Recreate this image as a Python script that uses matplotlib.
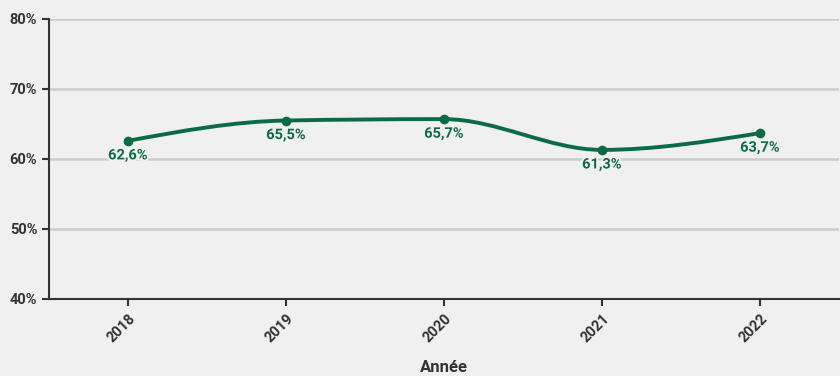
import matplotlib.pyplot as plt
import matplotlib.patheffects as pe
import numpy as np
from matplotlib.path import Path
from matplotlib.patches import PathPatch

years = ["2018", "2019", "2020", "2021", "2022"]
taux = [62.6, 65.5, 65.7, 61.3, 63.7]
labels = ["62,6%", "65,5%", "65,7%", "61,3%", "63,7%"]

green = "#0b6b45"
bg = "#f0f0f0"
dark = "#333333"

plt.rcParams["font.family"] = ["Roboto", "DejaVu Sans"]


def monotone_path(x, y):
    # monotone cubic bezier path through the points
    x = np.asarray(x, float)
    y = np.asarray(y, float)
    n = len(x)
    h = np.diff(x)
    s = np.diff(y) / h
    t = np.zeros(n)
    for i in range(1, n - 1):
        p = (s[i - 1] * h[i] + s[i] * h[i - 1]) / (h[i - 1] + h[i])
        t[i] = (np.sign(s[i - 1]) + np.sign(s[i])) * min(abs(s[i - 1]), abs(s[i]), 0.5 * abs(p))
    t[0] = (3 * s[0] - t[1]) / 2
    t[-1] = (3 * s[-1] - t[-2]) / 2
    verts = [(x[0], y[0])]
    codes = [Path.MOVETO]
    for i in range(n - 1):
        dx = (x[i + 1] - x[i]) / 3
        verts += [(x[i] + dx, y[i] + dx * t[i]),
                  (x[i + 1] - dx, y[i + 1] - dx * t[i + 1]),
                  (x[i + 1], y[i + 1])]
        codes += [Path.CURVE4] * 3
    return Path(verts, codes)


fig = plt.figure(figsize=(8.4, 3.76), dpi=100, facecolor=bg)
ax = fig.add_axes([49 / 840, 1 - 299 / 376, 790 / 840, 280 / 376])
ax.set_facecolor(bg)

xs = np.arange(len(years))
ax.set_xlim(-0.5, len(years) - 0.5)
ax.set_ylim(40, 80)

yt = [40, 50, 60, 70, 80]
ax.set_yticks(yt)
ax.set_yticklabels([f"{v}%" for v in yt])
for v in yt[1:]:
    ax.axhline(v, color="#cccccc", lw=1.8, zorder=1)

ax.add_patch(PathPatch(monotone_path(xs, taux), facecolor="none",
                       edgecolor=green, lw=2.8, zorder=3, capstyle="round"))
ax.plot(xs, taux, "o", color=green, ms=6, zorder=4)

# value labels under each point, with a halo over the gridlines
for xi, v, lab in zip(xs, taux, labels):
    ax.annotate(lab, (xi, v), xytext=(0, -10.5), textcoords="offset points",
                ha="center", va="center", color=green, fontsize=10.5,
                fontweight="bold", zorder=5,
                path_effects=[pe.withStroke(linewidth=3, foreground=bg)])

ax.set_xticks(xs)
ax.set_xticklabels(years, rotation=45, ha="right", va="top",
                   rotation_mode="anchor")
ax.tick_params(axis="both", colors=dark, labelcolor=dark, length=5, width=1.5,
               labelsize=10.5)
for lab in ax.get_xticklabels() + ax.get_yticklabels():
    lab.set_fontweight("bold")
ax.tick_params(axis="x", pad=4)

ax.spines["top"].set_visible(False)
ax.spines["right"].set_visible(False)
for sp in ("left", "bottom"):
    ax.spines[sp].set_color(dark)
    ax.spines[sp].set_linewidth(1.5)

ax.set_xlabel("Année", fontsize=12, fontweight="bold", color=dark, labelpad=11)

fig.savefig("out.png", dpi=100, facecolor=bg)
